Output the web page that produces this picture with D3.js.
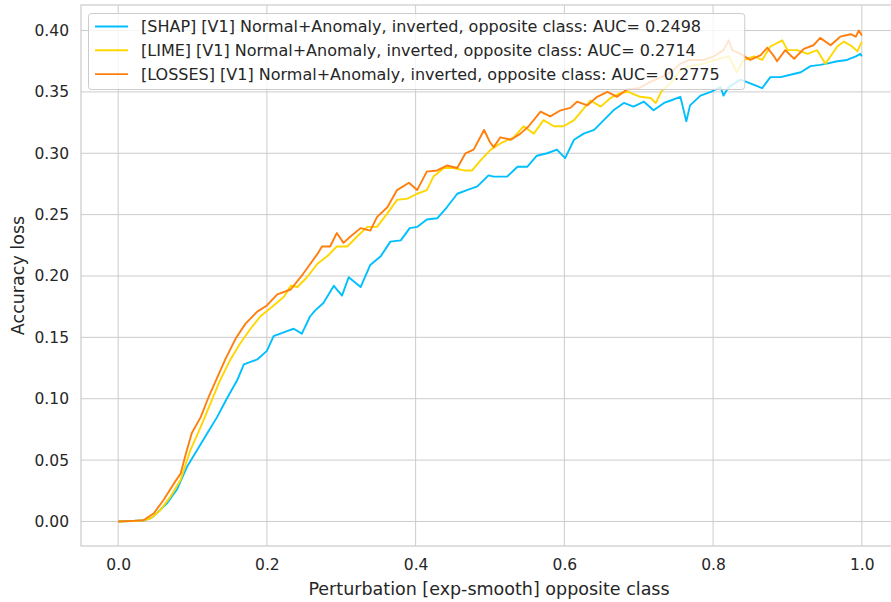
<!DOCTYPE html>
<html><head><meta charset="utf-8">
<script src="https://cdn.jsdelivr.net/npm/d3@7"></script>
<style>body{margin:0;background:#fff}svg{display:block}text{font-family:"DejaVu Sans",sans-serif;fill:#262626}</style>
</head><body><svg id="c" width="891" height="602"></svg>
<script>
const xTicks = [0.0, 0.2, 0.4, 0.6, 0.8, 1.0];
const yTicks = [0.00, 0.05, 0.10, 0.15, 0.20, 0.25, 0.30, 0.35, 0.40];
const seriesNames = [
  "[SHAP] [V1] Normal+Anomaly, inverted, opposite class: AUC= 0.2498",
  "[LIME] [V1] Normal+Anomaly, inverted, opposite class: AUC= 0.2714",
  "[LOSSES] [V1] Normal+Anomaly, inverted, opposite class: AUC= 0.2775"
];
const seriesColors = ["#00bfff", "#ffd700", "#ff7f0e"];
const shap = [[0,0],[0.02,0.0005],[0.035,0.001],[0.045,0.003],[0.052,0.0067],[0.066,0.015],[0.079,0.026],[0.093,0.045],[0.106,0.058],[0.12,0.072],[0.133,0.085],[0.146,0.1],[0.16,0.115],[0.169,0.128],[0.178,0.13],[0.187,0.132],[0.2,0.139],[0.209,0.151],[0.218,0.153],[0.227,0.155],[0.236,0.157],[0.247,0.153],[0.258,0.167],[0.265,0.172],[0.276,0.178],[0.29,0.192],[0.301,0.184],[0.31,0.199],[0.326,0.191],[0.339,0.209],[0.353,0.216],[0.366,0.228],[0.38,0.229],[0.392,0.239],[0.402,0.24],[0.415,0.246],[0.429,0.247],[0.442,0.256],[0.456,0.267],[0.469,0.27],[0.483,0.273],[0.498,0.282],[0.505,0.281],[0.523,0.281],[0.537,0.289],[0.55,0.289],[0.563,0.298],[0.577,0.3],[0.59,0.303],[0.601,0.296],[0.613,0.311],[0.626,0.316],[0.64,0.319],[0.653,0.327],[0.666,0.335],[0.68,0.341],[0.693,0.338],[0.707,0.342],[0.72,0.335],[0.734,0.341],[0.743,0.343],[0.756,0.346],[0.764,0.326],[0.769,0.339],[0.783,0.347],[0.797,0.35],[0.81,0.354],[0.814,0.347],[0.821,0.354],[0.837,0.36],[0.85,0.357],[0.866,0.353],[0.877,0.362],[0.891,0.362],[0.904,0.364],[0.918,0.366],[0.931,0.371],[0.944,0.372],[0.953,0.373],[0.967,0.375],[0.98,0.376],[0.992,0.379],[0.998,0.381],[1.0,0.379]];
const lime = [[0,0],[0.02,0.0003],[0.035,0.001],[0.045,0.003],[0.057,0.0094],[0.07,0.02],[0.084,0.034],[0.097,0.058],[0.111,0.077],[0.124,0.096],[0.137,0.115],[0.151,0.132],[0.164,0.145],[0.178,0.157],[0.191,0.167],[0.205,0.174],[0.223,0.183],[0.232,0.192],[0.241,0.191],[0.254,0.199],[0.268,0.21],[0.281,0.216],[0.294,0.224],[0.308,0.224],[0.321,0.232],[0.335,0.24],[0.348,0.24],[0.362,0.251],[0.375,0.262],[0.389,0.263],[0.402,0.267],[0.415,0.27],[0.424,0.281],[0.438,0.288],[0.451,0.288],[0.465,0.286],[0.476,0.286],[0.487,0.294],[0.501,0.303],[0.514,0.308],[0.532,0.313],[0.545,0.322],[0.559,0.316],[0.572,0.327],[0.586,0.322],[0.599,0.322],[0.613,0.327],[0.624,0.335],[0.635,0.343],[0.649,0.338],[0.662,0.345],[0.675,0.349],[0.686,0.35],[0.702,0.346],[0.716,0.345],[0.723,0.341],[0.731,0.351],[0.743,0.357],[0.756,0.368],[0.769,0.371],[0.787,0.373],[0.803,0.376],[0.821,0.379],[0.832,0.366],[0.841,0.376],[0.855,0.379],[0.866,0.376],[0.877,0.387],[0.893,0.392],[0.9,0.384],[0.913,0.384],[0.927,0.381],[0.94,0.384],[0.951,0.373],[0.958,0.379],[0.967,0.387],[0.976,0.391],[0.987,0.387],[0.994,0.383],[1.0,0.391]];
const losses = [[0,0],[0.02,0.0005],[0.034,0.001],[0.048,0.0067],[0.061,0.0175],[0.075,0.031],[0.084,0.039],[0.09,0.053],[0.099,0.072],[0.111,0.085],[0.122,0.102],[0.133,0.117],[0.144,0.132],[0.158,0.149],[0.171,0.161],[0.187,0.171],[0.2,0.176],[0.214,0.185],[0.232,0.189],[0.249,0.202],[0.268,0.218],[0.274,0.224],[0.285,0.224],[0.294,0.235],[0.303,0.227],[0.312,0.232],[0.326,0.239],[0.339,0.237],[0.348,0.248],[0.362,0.256],[0.375,0.27],[0.391,0.276],[0.402,0.27],[0.415,0.285],[0.429,0.286],[0.442,0.29],[0.456,0.288],[0.467,0.3],[0.478,0.303],[0.492,0.319],[0.5,0.309],[0.505,0.305],[0.514,0.313],[0.528,0.311],[0.541,0.316],[0.552,0.322],[0.568,0.334],[0.581,0.33],[0.595,0.335],[0.608,0.337],[0.617,0.342],[0.631,0.339],[0.644,0.346],[0.658,0.35],[0.671,0.346],[0.684,0.352],[0.7,0.353],[0.715,0.358],[0.73,0.362],[0.743,0.366],[0.756,0.373],[0.769,0.376],[0.787,0.376],[0.801,0.379],[0.814,0.384],[0.821,0.392],[0.826,0.384],[0.837,0.381],[0.85,0.376],[0.864,0.38],[0.873,0.386],[0.882,0.379],[0.886,0.375],[0.897,0.384],[0.909,0.377],[0.922,0.385],[0.935,0.388],[0.944,0.394],[0.958,0.388],[0.971,0.395],[0.985,0.397],[0.992,0.395],[0.996,0.4],[1.0,0.396]];
const allSeries = [shap, lime, losses];

const svg = d3.select("#c");
const L = 81, R = 899, T = 5, B = 546;
const x = d3.scaleLinear().domain([-0.05, 1.05]).range([L, R]);
const y = d3.scaleLinear().domain([-0.02, 0.4208]).range([B, T]);
const grid = "#cccccc";

svg.append("g").selectAll("line").data(xTicks).join("line")
  .attr("x1", d => x(d)).attr("x2", d => x(d)).attr("y1", T).attr("y2", B)
  .attr("stroke", grid).attr("stroke-width", 1);
svg.append("g").selectAll("line").data(yTicks).join("line")
  .attr("x1", L).attr("x2", R).attr("y1", d => y(d)).attr("y2", d => y(d))
  .attr("stroke", grid).attr("stroke-width", 1);
svg.append("rect").attr("x", L).attr("y", T).attr("width", R - L).attr("height", B - T)
  .attr("fill", "none").attr("stroke", grid).attr("stroke-width", 1.25);

const xa = svg.append("g").attr("transform", `translate(0,${B})`)
  .call(d3.axisBottom(x).tickValues(xTicks).tickFormat(d3.format(".1f")).tickSize(0).tickPadding(13));
const ya = svg.append("g").attr("transform", `translate(${L},0)`)
  .call(d3.axisLeft(y).tickValues(yTicks).tickFormat(d3.format(".2f")).tickSize(0).tickPadding(12));
[xa, ya].forEach(a => { a.select(".domain").remove(); a.selectAll("text").attr("font-size", 15.5).attr("font-family", "DejaVu Sans").attr("fill", "#262626"); });

svg.append("text").attr("x", 489).attr("y", 595).attr("text-anchor", "middle")
  .attr("font-size", 17.5).text("Perturbation [exp-smooth] opposite class");
svg.append("text").attr("transform", `translate(24,${(T + B) / 2}) rotate(-90)`).attr("text-anchor", "middle")
  .attr("font-size", 17.5).text("Accuracy loss");

const line = d3.line().x(d => x(d[0])).y(d => y(d[1]));
svg.append("g").selectAll("path").data(allSeries).join("path")
  .attr("d", line).attr("fill", "none")
  .attr("stroke", (d, i) => seriesColors[i]).attr("stroke-width", 1.9).attr("stroke-linejoin", "round");

const lg = svg.append("g");
const box = lg.append("rect").attr("x", 88.5).attr("y", 13.5).attr("height", 76).attr("rx", 3)
  .attr("fill", "white").attr("fill-opacity", 0.8).attr("stroke", "#cccccc").attr("stroke-width", 1);
let maxW = 0;
seriesNames.forEach((n, i) => {
  const yy = 26.5 + i * 23.8;
  lg.append("line").attr("x1", 95).attr("x2", 128).attr("y1", yy).attr("y2", yy)
    .attr("stroke", seriesColors[i]).attr("stroke-width", 1.9);
  const t = lg.append("text").attr("x", 141).attr("y", yy).attr("dy", "0.35em")
    .attr("font-size", 16).text(n);
  maxW = Math.max(maxW, t.node().getComputedTextLength());
});
box.attr("width", 141 + maxW + 25 - 88.5);
</script></body></html>
